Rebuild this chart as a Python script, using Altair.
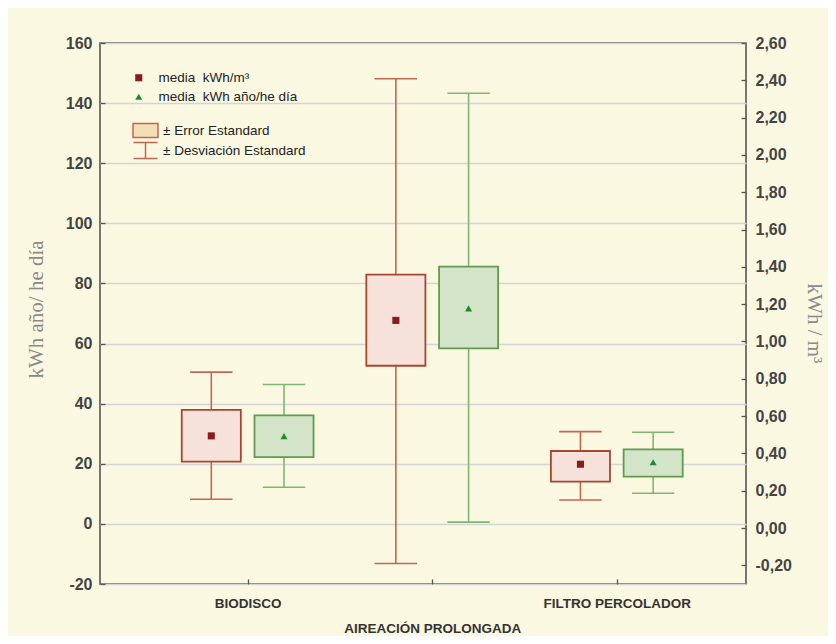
import altair as alt
import pandas as pd

# ---------------- data ----------------
categorias = ["BIODISCO", "AIREACIÓN PROLONGADA", "FILTRO PERCOLADOR"]
posicion = [1, 2, 3]

# kWh/m3 (right axis)
m3_media = [0.494, 1.113, 0.342]
m3_se_inf = [0.356, 0.870, 0.249]
m3_se_sup = [0.633, 1.358, 0.413]
m3_de_inf = [0.154, -0.190, 0.150]
m3_de_sup = [0.836, 2.408, 0.517]

# kWh año/he día (left axis)
he_media = [29.2, 71.7, 20.5]
he_se_inf = [22.2, 58.4, 15.7]
he_se_sup = [36.1, 85.6, 24.8]
he_de_inf = [12.2, 0.6, 10.2]
he_de_sup = [46.4, 143.3, 30.5]

ticks_izq = [-20, 0, 20, 40, 60, 80, 100, 120, 140, 160]
ticks_der = [-0.2, 0.0, 0.2, 0.4, 0.6, 0.8, 1.0, 1.2, 1.4, 1.6, 1.8, 2.0, 2.2, 2.4, 2.6]

SERIE_M3 = "media\u00a0 kWh/m³"
SERIE_HE = "media\u00a0 kWh año/he día"
series = [SERIE_M3, SERIE_HE]
bandas = ["± Error Estandard", "± Desviación Estandard"]

# ---------------- styles ----------------
RED_LINE = "#c4664f"
RED_BORDER = "#a8462f"
RED_FILL = "#f6e2da"
RED_MEAN = "#8b1a1a"
GREEN_LINE = "#80b670"
GREEN_BORDER = "#5f9c4f"
GREEN_FILL = "#d3e4c8"
GREEN_MEAN = "#1f8a30"
LEG_BOX_FILL = "#f3dfb6"

SANS = "Liberation Sans"
SERIF = "Liberation Serif"

df_m3 = pd.DataFrame({
    "cat": categorias, "pos": posicion, "media": m3_media,
    "se_inf": m3_se_inf, "se_sup": m3_se_sup,
    "de_inf": m3_de_inf, "de_sup": m3_de_sup, "serie": SERIE_M3,
})
df_he = pd.DataFrame({
    "cat": categorias, "pos": posicion, "media": he_media,
    "se_inf": he_se_inf, "se_sup": he_se_sup,
    "de_inf": he_de_inf, "de_sup": he_de_sup, "serie": SERIE_HE,
})
df_bandas = pd.DataFrame({"banda": bandas})

x_scale = alt.Scale(domain=[0.2, 3.7], nice=False, zero=False)

label_expr_x = "datum.value == 1 ? '%s' : datum.value == 2 ? ['', '%s'] : '%s'" % (
    categorias[0], categorias[1], categorias[2])

x_axis = alt.Axis(
    values=posicion, labelExpr=label_expr_x, title=None, grid=False, domain=False,
    offset=-5, tickSize=5, tickColor="#555", tickWidth=1.3,
    labelFont=SANS, labelFontWeight="bold", labelFontSize=13.5, labelColor="#333",
    labelPadding=12, labelLineHeight=25, labelBaseline="top",
    labelOverlap=False, labelFlush=False, labelBound=False,
)

y_axis_he = alt.Axis(
    orient="left", values=ticks_izq, tickCount=20, grid=True, gridColor="#d4d4d4", gridWidth=1.5,
    domain=False, offset=-5, tickSize=5, tickColor="#555", tickWidth=1.3,
    labelExpr="replace(format(datum.value, 'd'), '\u2212', '-')",
    labelFont=SANS, labelFontWeight="bold", labelFontSize=16, labelColor="#444",
    labelPadding=8, labelOverlap=False,
    title="kWh año/ he día", titleFont=SERIF, titleFontSize=21, titleFontWeight="normal",
    titleColor="#8a8a8a", titleAngle=270, titleX=-69, titleY=266,
    titleBaseline="middle", titleAlign="center",
)

y_axis_m3 = alt.Axis(
    orient="right", values=ticks_der, tickCount=30, grid=False,
    domain=False, offset=-5, tickSize=5, tickColor="#555", tickWidth=1.3,
    labelExpr="replace(replace(format(datum.value, '.2f'), '.', ','), '\u2212', '-')",
    labelFont=SANS, labelFontWeight="bold", labelFontSize=16, labelColor="#444",
    labelPadding=9, labelOverlap=False,
    title="kWh / m³", titleFont=SERIF, titleFontSize=21, titleFontWeight="normal",
    titleColor="#8a8a8a", titleAngle=90, titleX=72, titleY=280,
    titleBaseline="middle", titleAlign="center",
)

legend_media = alt.Legend(
    title=None, orient="none", legendX=32, legendY=28,
    symbolSize=50, labelFont=SANS, labelFontSize=13.5, labelColor="#222",
    labelOffset=13, rowPadding=4, symbolStrokeWidth=0,
)

color_scale = alt.Scale(domain=series, range=[RED_MEAN, GREEN_MEAN])
shape_scale = alt.Scale(domain=series, range=["square", "triangle-up"])

BOX_PATH = "M-1.47,-0.82H1.47V0.82H-1.47Z"
WHISK_PATH = "M-1.41,-0.94H1.41M0,-0.94V0.94M-1.41,0.94H1.41"

legend_bandas = alt.Legend(
    title=None, orient="none", legendX=36, legendY=78,
    symbolSize=289, labelFont=SANS, labelFontSize=13.5, labelColor="#222",
    labelOffset=8, rowPadding=-5, symbolOpacity=1, symbolStrokeWidth=1.5,
    symbolType={"expr": "datum.index == 0 ? '%s' : '%s'" % (BOX_PATH, WHISK_PATH)},
)


def grupo(df, desplaz, c_line, c_border, c_fill, y_axis, y_domain):
    base = alt.Chart(df).transform_calculate(
        xc="datum.pos + (%f)" % desplaz,
        xl="datum.pos + (%f) - 0.16" % desplaz,
        xr="datum.pos + (%f) + 0.16" % desplaz,
        cl="datum.pos + (%f) - 0.115" % desplaz,
        cr="datum.pos + (%f) + 0.115" % desplaz,
    )
    ys = alt.Scale(domain=y_domain, nice=False, zero=False)
    # the first layer carries the explicit axis; the others inherit it
    whisker = base.mark_rule(color=c_line, strokeWidth=1.6).encode(
        x=alt.X("xc:Q", scale=x_scale, axis=x_axis),
        y=alt.Y("de_inf:Q", scale=ys, axis=y_axis),
        y2="de_sup:Q",
    )
    cap_lo = base.mark_rule(color=c_line, strokeWidth=1.6).encode(
        x=alt.X("cl:Q", scale=x_scale), x2="cr:Q",
        y=alt.Y("de_inf:Q", scale=ys),
    )
    cap_hi = base.mark_rule(color=c_line, strokeWidth=1.6).encode(
        x=alt.X("cl:Q", scale=x_scale), x2="cr:Q",
        y=alt.Y("de_sup:Q", scale=ys),
    )
    box = base.mark_rect(fill=c_fill, stroke=c_border, strokeWidth=1.8).encode(
        x=alt.X("xl:Q", scale=x_scale), x2="xr:Q",
        y=alt.Y("se_inf:Q", scale=ys), y2="se_sup:Q",
    )
    mean = base.mark_point(filled=True, size=50, opacity=1).encode(
        x=alt.X("xc:Q", scale=x_scale),
        y=alt.Y("media:Q", scale=ys),
        color=alt.Color("serie:N", scale=color_scale, legend=legend_media),
        shape=alt.Shape("serie:N", scale=shape_scale, legend=legend_media),
    )
    return whisker + cap_lo + cap_hi + box + mean


verde = grupo(df_he, 0.197, GREEN_LINE, GREEN_BORDER, GREEN_FILL, y_axis_he, [-20, 160])
rojo = grupo(df_m3, -0.197, RED_LINE, RED_BORDER, RED_FILL, y_axis_m3, [-0.30, 2.60])

leyenda_b = alt.Chart(df_bandas).mark_point(opacity=0, stroke=RED_LINE, strokeWidth=1.5).encode(
    fill=alt.Fill(
        "banda:N",
        scale=alt.Scale(domain=bandas, range=[LEG_BOX_FILL, "transparent"]),
        legend=legend_bandas,
    )
)

chart = alt.layer(verde, rojo, leyenda_b).resolve_scale(y="independent").properties(
    width=646, height=541,
    padding={"left": 92, "top": 35, "right": 82, "bottom": 52},
    autosize=alt.AutoSizeParams(type="none"),
    background="#fbf8e2",
).configure_view(
    stroke="#555", strokeWidth=1.6, fill="white",
)

chart.save("out.html", embed_options={"renderer": "svg", "actions": False})
